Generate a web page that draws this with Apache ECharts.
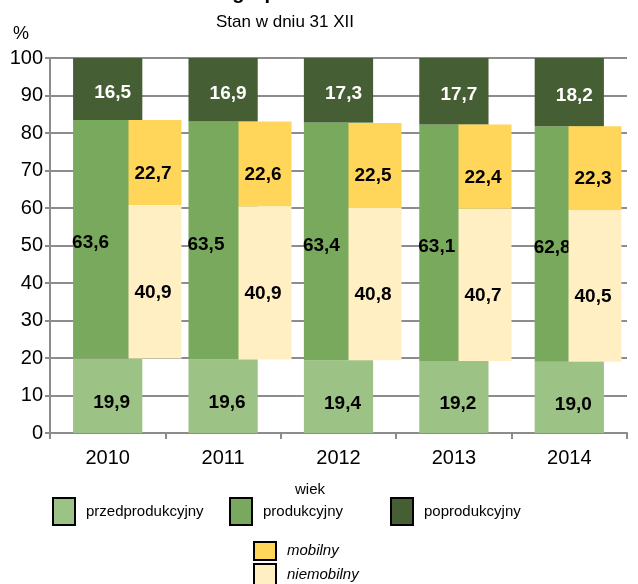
<!DOCTYPE html>
<html>
<head>
<meta charset="utf-8">
<script src="https://cdn.jsdelivr.net/npm/echarts@6/dist/echarts.min.js"></script>
<style>
html, body { margin: 0; padding: 0; background: #fff; }
#chart { width: 638px; height: 584px; }
</style>
</head>
<body>
<div id="chart"></div>
<script>
var years = ['2010', '2011', '2012', '2013', '2014'];
var przedprodukcyjny = [19.9, 19.6, 19.4, 19.2, 19.0];
var produkcyjny = [63.6, 63.5, 63.4, 63.1, 62.8];
var poprodukcyjny = [16.5, 16.9, 17.3, 17.7, 18.2];
var mobilny = [22.7, 22.6, 22.5, 22.4, 22.3];
var niemobilny = [40.9, 40.9, 40.8, 40.7, 40.5];
var yTicks = [0, 10, 20, 30, 40, 50, 60, 70, 80, 90, 100];

var FONT = 'Liberation Sans, Arial, sans-serif';
var COLORS = {
    przed: '#9CC285',
    prod: '#79A95C',
    popr: '#465E34',
    mob: '#FFD659',
    niem: '#FFEFC3'
};

function fmt(p) {
    return p.value.toFixed(1).replace('.', ',');
}

function barLabel(color, offset) {
    return {
        show: true,
        position: 'inside',
        offset: offset,
        formatter: fmt,
        color: color,
        fontFamily: FONT,
        fontWeight: 'bold',
        fontSize: 19
    };
}

function legendBox(name, left, top, w, h, italic) {
    return {
        data: [name],
        left: left,
        top: top,
        padding: 0,
        itemWidth: w,
        itemHeight: h,
        icon: 'rect',
        selectedMode: false,
        itemStyle: { borderColor: '#000', borderWidth: 2 },
        textStyle: {
            fontFamily: FONT,
            fontSize: 15,
            color: '#000',
            fontStyle: italic ? 'italic' : 'normal',
            padding: [0, 0, 0, 6]
        }
    };
}

var chart = echarts.init(document.getElementById('chart'), null, { renderer: 'canvas' });

var yAxisBase = {
    type: 'value',
    min: yTicks[0],
    max: yTicks[yTicks.length - 1],
    interval: 10
};

var option = {
    animation: false,
    backgroundColor: '#fff',
    title: [{
        text: 'grup wieku',
        left: 285,
        top: -17,
        padding: 0,
        textAlign: 'center',
        textStyle: { fontFamily: FONT, fontSize: 20, fontWeight: 'bold', color: '#000' }
    }, {
        text: 'Stan w dniu 31 XII',
        left: 285,
        top: 14,
        padding: 0,
        textAlign: 'center',
        textStyle: { fontFamily: FONT, fontSize: 17, fontWeight: 'normal', color: '#000' }
    }, {
        text: '%',
        left: 13,
        top: 25,
        padding: 0,
        textStyle: { fontFamily: FONT, fontSize: 18, fontWeight: 'normal', color: '#000' }
    }],
    grid: [
        { left: 50, right: 11, top: 58, bottom: 151 },
        // slupki mobilny/niemobilny maja wlasna, przesunieta siatke
        { left: 100, width: 550, top: 58, bottom: 151, outerBoundsMode: 'none' }
    ],
    xAxis: [{
        type: 'category',
        gridIndex: 0,
        data: years,
        axisLine: { lineStyle: { color: '#8c8c8c', width: 2 } },
        axisTick: { show: true, length: 6, lineStyle: { color: '#8c8c8c', width: 2 } },
        axisLabel: { fontFamily: FONT, fontSize: 20, color: '#000', margin: 15 }
    }, {
        type: 'category',
        gridIndex: 1,
        data: years,
        show: false
    }],
    yAxis: [Object.assign({}, yAxisBase, {
        gridIndex: 0,
        axisLine: { show: true, lineStyle: { color: '#8c8c8c', width: 2 } },
        axisTick: { show: true, length: 5, lineStyle: { color: '#8c8c8c', width: 2 } },
        axisLabel: { fontFamily: FONT, fontSize: 20, color: '#000', margin: 7 },
        splitLine: { show: true, lineStyle: { color: '#8c8c8c', width: 2 } }
    }), Object.assign({}, yAxisBase, {
        gridIndex: 1,
        show: false
    })],
    legend: [
        legendBox('przedprodukcyjny', 52, 497, 22, 27, false),
        legendBox('produkcyjny', 229, 497, 22, 27, false),
        legendBox('poprodukcyjny', 390, 497, 22, 27, false),
        legendBox('mobilny', 253, 541, 22, 18, true),
        legendBox('niemobilny', 253, 563, 22, 22, true)
    ],
    graphic: [{
        type: 'text',
        left: 295,
        top: 482,
        style: { text: 'wiek', font: '15px ' + FONT, fill: '#000' }
    }],
    series: [{
        name: 'przedprodukcyjny',
        type: 'bar',
        stack: 'wiek',
        xAxisIndex: 0,
        yAxisIndex: 0,
        barWidth: '60%',
        z: 2,
        itemStyle: { color: COLORS.przed },
        label: barLabel('#000', [4, 7]),
        data: przedprodukcyjny
    }, {
        name: 'produkcyjny',
        type: 'bar',
        stack: 'wiek',
        xAxisIndex: 0,
        yAxisIndex: 0,
        barWidth: '60%',
        z: 2,
        itemStyle: { color: COLORS.prod },
        label: Object.assign(barLabel('#000', [-1, 4]), { position: 'insideLeft', distance: 0 }),
        data: produkcyjny
    }, {
        name: 'poprodukcyjny',
        type: 'bar',
        stack: 'wiek',
        xAxisIndex: 0,
        yAxisIndex: 0,
        barWidth: '60%',
        z: 2,
        itemStyle: { color: COLORS.popr },
        label: barLabel('#fff', [5, 4]),
        data: poprodukcyjny
    }, {
        // niewidoczna podstawa - przesuwa slupek produkcyjny nad przedprodukcyjny
        name: 'base',
        type: 'bar',
        stack: 'prod',
        xAxisIndex: 1,
        yAxisIndex: 1,
        barWidth: 53,
        z: 3,
        silent: true,
        itemStyle: { color: 'rgba(0,0,0,0)' },
        data: przedprodukcyjny
    }, {
        name: 'niemobilny',
        type: 'bar',
        stack: 'prod',
        xAxisIndex: 1,
        yAxisIndex: 1,
        barWidth: 53,
        z: 3,
        itemStyle: { color: COLORS.niem },
        label: barLabel('#000', [-2, 11]),
        data: niemobilny
    }, {
        name: 'mobilny',
        type: 'bar',
        stack: 'prod',
        xAxisIndex: 1,
        yAxisIndex: 1,
        barWidth: 53,
        z: 3,
        itemStyle: { color: COLORS.mob },
        label: barLabel('#000', [-2, 11]),
        data: mobilny
    }]
};

chart.setOption(option);
</script>
</body>
</html>
